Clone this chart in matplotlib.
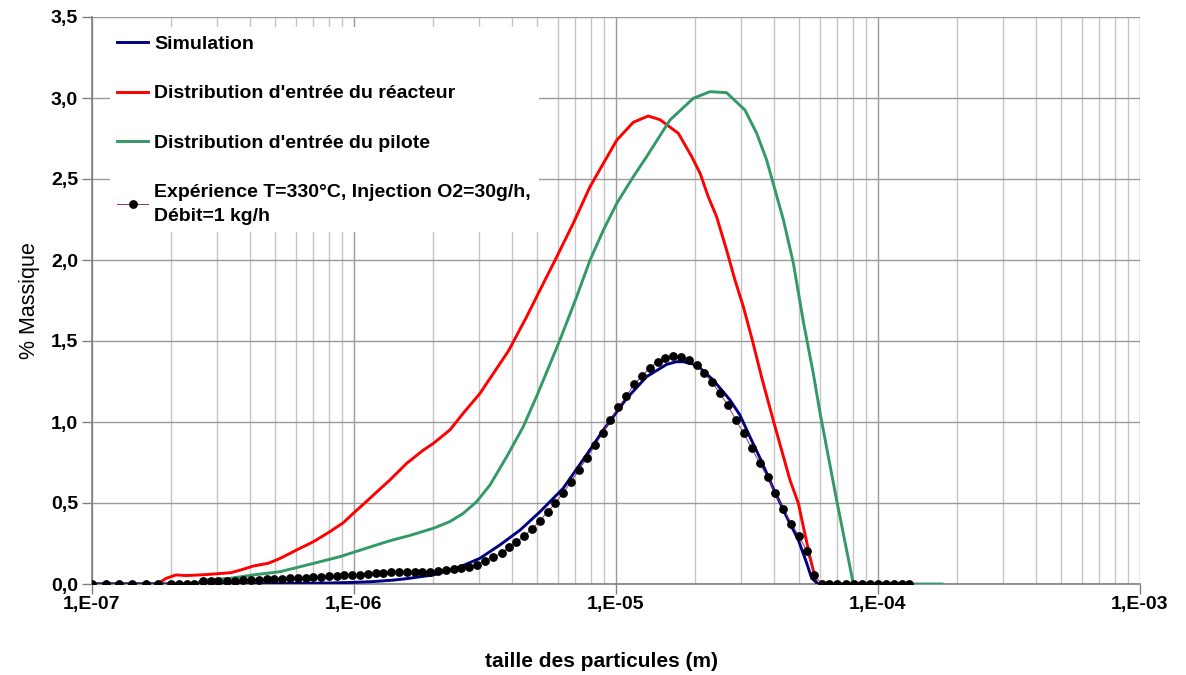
import numpy as np
import matplotlib
matplotlib.use("Agg")
import matplotlib.pyplot as plt
from matplotlib.ticker import FixedLocator, FuncFormatter, LogLocator, NullFormatter

plt.rcParams['font.family'] = ['Liberation Sans', 'DejaVu Sans']

# ---------------- data (log10 of particle size in m, % massique) ----------------
sim_logx = [-7.0, -6.6, -6.3, -6.1, -6.0, -5.926, -5.85, -5.799, -5.697, -5.608, -5.519,
            -5.443, -5.366, -5.290, -5.202, -5.112, -5.048, -4.959, -4.883, -4.806,
            -4.770, -4.743, -4.692, -4.629, -4.565, -4.527, -4.489, -4.450, -4.400,
            -4.349, -4.304, -4.272, -4.253, -4.228, -3.880]
sim_y = [0.0, 0.0, 0.002, 0.006, 0.010, 0.015, 0.024, 0.033, 0.056, 0.097, 0.159,
         0.241, 0.333, 0.446, 0.590, 0.798, 0.951, 1.146, 1.280, 1.356,
         1.372, 1.372, 1.352, 1.259, 1.136, 1.043, 0.909, 0.776, 0.591,
         0.416, 0.272, 0.128, 0.035, 0.0, 0.0]

reac_logx = [-7.0, -6.751, -6.717, -6.679, -6.641, -6.565, -6.469, -6.425, -6.384, -6.327,
             -6.282, -6.219, -6.155, -6.092, -6.041, -6.003, -5.952, -5.926, -5.863,
             -5.799, -5.735, -5.697, -5.634, -5.583, -5.519, -5.468, -5.410, -5.341,
             -5.290, -5.226, -5.163, -5.099, -5.048, -4.997, -4.934, -4.877, -4.832,
             -4.762, -4.711, -4.679, -4.648, -4.616, -4.578, -4.546, -4.514, -4.482,
             -4.444, -4.400, -4.368, -4.336, -4.304, -4.285, -4.260, -4.234, -3.880]
reac_y = [0.0, 0.0, 0.035, 0.056, 0.052, 0.058, 0.070, 0.090, 0.111, 0.128,
          0.158, 0.210, 0.261, 0.323, 0.378, 0.436, 0.510, 0.549, 0.642,
          0.745, 0.827, 0.868, 0.951, 1.054, 1.177, 1.300, 1.440, 1.650,
          1.815, 2.020, 2.227, 2.453, 2.597, 2.740, 2.850, 2.889, 2.866,
          2.782, 2.638, 2.535, 2.391, 2.267, 2.062, 1.877, 1.712, 1.520,
          1.275, 1.012, 0.827, 0.642, 0.498, 0.354, 0.169, 0.0, 0.0]

pil_logx = [-7.0, -6.62, -6.562, -6.473, -6.384, -6.282, -6.180, -6.104, -6.053, -6.003,
            -5.926, -5.863, -5.786, -5.697, -5.634, -5.583, -5.532, -5.481, -5.417,
            -5.354, -5.300, -5.214, -5.150, -5.099, -5.048, -4.997, -4.934, -4.883,
            -4.835, -4.794, -4.705, -4.641, -4.578, -4.508, -4.463, -4.425, -4.400,
            -4.361, -4.323, -4.285, -4.247, -4.221, -4.158, -4.094, -3.756]
pil_y = [0.0, 0.0, 0.025, 0.035, 0.056, 0.076, 0.117, 0.148, 0.169, 0.195,
         0.235, 0.267, 0.300, 0.344, 0.385, 0.436, 0.508, 0.611, 0.786,
         0.971, 1.170, 1.506, 1.774, 2.000, 2.185, 2.350, 2.514, 2.638,
         2.760, 2.864, 2.998, 3.039, 3.033, 2.926, 2.782, 2.617, 2.473,
         2.247, 1.980, 1.620, 1.300, 1.054, 0.519, 0.0, 0.0]

exp_logx = [-7.000, -6.948, -6.897, -6.846, -6.795, -6.749, -6.700, -6.668, -6.639, -6.609,
            -6.575, -6.547, -6.518, -6.486, -6.454, -6.422, -6.393, -6.363, -6.333, -6.304,
            -6.274, -6.244, -6.214, -6.183, -6.155, -6.125, -6.095, -6.066, -6.037, -6.008,
            -5.977, -5.948, -5.917, -5.888, -5.858, -5.828, -5.799, -5.769, -5.739, -5.709,
            -5.680, -5.650, -5.620, -5.591, -5.560, -5.531, -5.500, -5.470, -5.436, -5.408,
            -5.380, -5.350, -5.319, -5.291, -5.261, -5.232, -5.202, -5.172, -5.141, -5.112,
            -5.080, -5.051, -5.022, -4.991, -4.961, -4.931, -4.900, -4.870, -4.841, -4.812,
            -4.781, -4.752, -4.723, -4.692, -4.663, -4.634, -4.603, -4.573, -4.543, -4.513,
            -4.482, -4.452, -4.421, -4.392, -4.361, -4.331, -4.302, -4.272, -4.243, -4.215,
            -4.186, -4.156, -4.122, -4.092, -4.061, -4.031, -4.000, -3.969, -3.939, -3.908,
            -3.880]
exp_y = [0.0, 0.0, 0.0, 0.0, 0.0, 0.0, 0.0, 0.0, 0.0, 0.0,
         0.016, 0.016, 0.019, 0.019, 0.021, 0.023, 0.025, 0.025, 0.029, 0.031,
         0.033, 0.035, 0.035, 0.037, 0.041, 0.043, 0.047, 0.049, 0.053, 0.056,
         0.058, 0.062, 0.066, 0.068, 0.072, 0.074, 0.074, 0.075, 0.076, 0.077,
         0.080, 0.086, 0.093, 0.100, 0.108, 0.120, 0.145, 0.165, 0.191, 0.226,
         0.259, 0.298, 0.340, 0.391, 0.444, 0.498, 0.562, 0.630, 0.706, 0.776,
         0.856, 0.932, 1.014, 1.090, 1.158, 1.232, 1.284, 1.336, 1.371, 1.398,
         1.409, 1.403, 1.383, 1.349, 1.302, 1.246, 1.176, 1.102, 1.013, 0.932,
         0.838, 0.746, 0.658, 0.561, 0.464, 0.372, 0.297, 0.205, 0.057, 0.0,
         0.0, 0.0, 0.0, 0.0, 0.0, 0.0, 0.0, 0.0, 0.0, 0.0,
         0.0]

labels = ["Simulation",
          "Distribution d'entrée du réacteur",
          "Distribution d'entrée du pilote",
          "Expérience T=330°C, Injection O2=30g/h,\nDébit=1 kg/h"]
x_tick_labels = ["1,E-07", "1,E-06", "1,E-05", "1,E-04", "1,E-03"]
y_ticks = [0.0, 0.5, 1.0, 1.5, 2.0, 2.5, 3.0, 3.5]

# ---------------- figure ----------------
fig = plt.figure(figsize=(11.86, 6.75), dpi=100)
ax = fig.add_axes([92 / 1186, 1 - 584 / 675, 1048 / 1186, 567 / 675])

def px(v):
    return 10.0 ** np.asarray(v)

l_reac, = ax.plot(px(reac_logx), reac_y, color="#FF0000", lw=2.1, zorder=3)
l_pil, = ax.plot(px(pil_logx), pil_y, color="#339966", lw=2.1, zorder=3)
l_sim, = ax.plot(px(sim_logx), sim_y, color="#000080", lw=2.1, zorder=4)
l_exp, = ax.plot(px(exp_logx), exp_y, color="#993366", lw=0.7, marker="o",
                 ms=5.3, mfc="black", mec="black", zorder=5)

ax.set_xscale("log")
ax.set_xlim(1e-7, 1e-3)
ax.set_ylim(0, 3.5)

ax.xaxis.set_major_locator(FixedLocator([1e-7, 1e-6, 1e-5, 1e-4, 1e-3]))
ax.xaxis.set_major_formatter(FuncFormatter(
    lambda v, p: x_tick_labels[int(round(np.log10(v))) + 7] if -7 <= round(np.log10(v)) <= -3 else ""))
ax.xaxis.set_minor_locator(LogLocator(base=10, subs=np.arange(2, 10), numticks=20))
ax.xaxis.set_minor_formatter(NullFormatter())
ax.yaxis.set_major_locator(FixedLocator(y_ticks))
ax.yaxis.set_major_formatter(FuncFormatter(lambda v, p: f"{v:.1f}".replace(".", ",")))

ax.grid(which="major", axis="both", color="#9a9a9a", lw=1.0, zorder=0)
ax.grid(which="minor", axis="x", color="#c4c4c4", lw=1.0, zorder=0)
ax.set_axisbelow(True)

for s in ["top", "right"]:
    ax.spines[s].set_visible(False)
for s in ["left", "bottom"]:
    ax.spines[s].set_color("#808080")
    ax.spines[s].set_linewidth(1.2)

ax.tick_params(axis="both", which="major", length=7, color="#808080", width=1,
               labelsize=14)
ax.tick_params(axis="x", which="minor", length=0)
ax.tick_params(axis="y", which="major", pad=3)
ax.tick_params(axis="x", which="major", pad=2)
for t in ax.get_xticklabels() + ax.get_yticklabels():
    t.set_fontweight("bold")

ax.set_xlabel("taille des particules (m)", fontsize=15, fontweight="bold",
              labelpad=28, x=0.486)
ax.set_ylabel("% Massique", fontsize=15.5, labelpad=8)

leg = ax.legend([l_sim, l_reac, l_pil, l_exp], labels, loc="upper left",
                bbox_to_anchor=(0.0075, 0.999), frameon=True, fancybox=False,
                handlelength=1.6, handletextpad=0.3, labelspacing=1.65,
                borderpad=0.4, prop={"weight": "bold", "size": 14.0})
for t in leg.get_texts():
    t.set_linespacing(1.5)
leg.get_frame().set_facecolor("white")
leg.get_frame().set_edgecolor("none")
leg.get_frame().set_alpha(1.0)

fig.savefig("out.png", dpi=100)
